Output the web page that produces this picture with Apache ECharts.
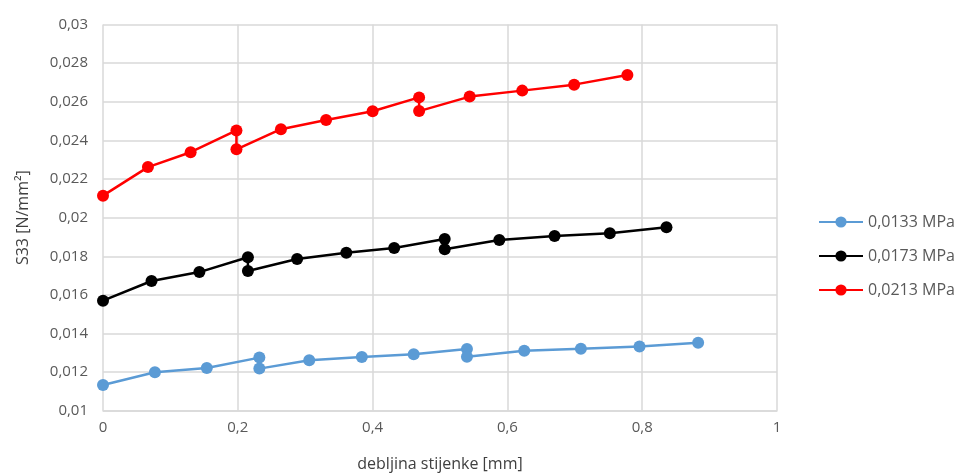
<!DOCTYPE html>
<html>
<head>
<meta charset="utf-8">
<script src="https://cdn.jsdelivr.net/npm/echarts@6/dist/echarts.min.js"></script>
<style>html,body{margin:0;padding:0;background:#fff}#c{width:961px;height:476px}</style>
</head>
<body>
<div id="c"></div>
<script>
const seriesNames = ['0,0133 MPa', '0,0173 MPa', '0,0213 MPa'];
const seriesColors = ['#5b9bd5', '#000000', '#ff0000'];
const xBlue = [0, 0.077, 0.154, 0.232, 0.232, 0.306, 0.384, 0.461, 0.540, 0.540, 0.625, 0.709, 0.796, 0.883];
const yBlue = [0.01133, 0.01199, 0.01221, 0.01275, 0.01218, 0.01261, 0.01278, 0.01292, 0.0132, 0.0128, 0.01311, 0.01321, 0.01332, 0.01352];
const xBlack = [0, 0.072, 0.143, 0.215, 0.215, 0.288, 0.361, 0.432, 0.507, 0.507, 0.588, 0.670, 0.752, 0.836];
const yBlack = [0.0157, 0.01672, 0.01718, 0.01795, 0.01724, 0.01786, 0.01818, 0.01843, 0.01889, 0.01836, 0.01884, 0.01905, 0.01919, 0.0195];
const xRed = [0, 0.0667, 0.130, 0.198, 0.198, 0.264, 0.331, 0.400, 0.469, 0.469, 0.544, 0.622, 0.699, 0.778];
const yRed = [0.02114, 0.02262, 0.02339, 0.02452, 0.02354, 0.02458, 0.02506, 0.02551, 0.02623, 0.02552, 0.02627, 0.02658, 0.02689, 0.02739];
const xTitle = 'debljina stijenke [mm]';
const yTitle = 'S33 [N/mm²]';

const xs = [xBlue, xBlack, xRed];
const ys = [yBlue, yBlack, yRed];
const fmt = v => String(parseFloat(v.toFixed(5))).replace('.', ',');
const font = '"Open Sans", "Liberation Sans", sans-serif';

const chart = echarts.init(document.getElementById('c'), null, {renderer: 'canvas'});
chart.setOption({
  animation: false,
  backgroundColor: '#fff',
  textStyle: {fontFamily: font},
  grid: {left: 103, right: 184, top: 24.6, bottom: 65.3, containLabel: false, outerBoundsMode: 'none'},
  legend: {
    orient: 'vertical', left: 813, top: 209, itemGap: 18,
    itemWidth: 44, itemHeight: 14,
    textStyle: {color: '#595959', fontSize: 16, fontFamily: font},
    data: seriesNames
  },
  xAxis: {
    type: 'value', min: 0, max: 1, interval: 0.2,
    name: xTitle, nameLocation: 'middle', nameGap: 46,
    nameTextStyle: {color: '#404040', fontSize: 16, fontFamily: font},
    axisLine: {show: true, lineStyle: {color: '#d9d9d9', width: 1.5}},
    axisTick: {show: false},
    axisLabel: {color: '#595959', fontSize: 15, margin: 10, formatter: fmt},
    splitLine: {show: true, lineStyle: {color: '#d9d9d9', width: 1.5}}
  },
  yAxis: {
    type: 'value', min: 0.01, max: 0.03, interval: 0.002,
    name: yTitle, nameLocation: 'middle', nameGap: 72,
    nameTextStyle: {color: '#404040', fontSize: 16, fontFamily: font},
    axisLine: {show: false},
    axisTick: {show: false},
    axisLabel: {color: '#595959', fontSize: 15, margin: 15, formatter: fmt},
    splitLine: {show: true, lineStyle: {color: '#d9d9d9', width: 1.5}}
  },
  series: seriesNames.map((n, i) => ({
    name: n, type: 'line',
    data: xs[i].map((x, j) => [x, ys[i][j]]),
    symbol: 'circle', symbolSize: 12,
    itemStyle: {color: seriesColors[i]},
    lineStyle: {color: seriesColors[i], width: 2.5},
    z: 2 + i
  }))
});
</script>
</body>
</html>
